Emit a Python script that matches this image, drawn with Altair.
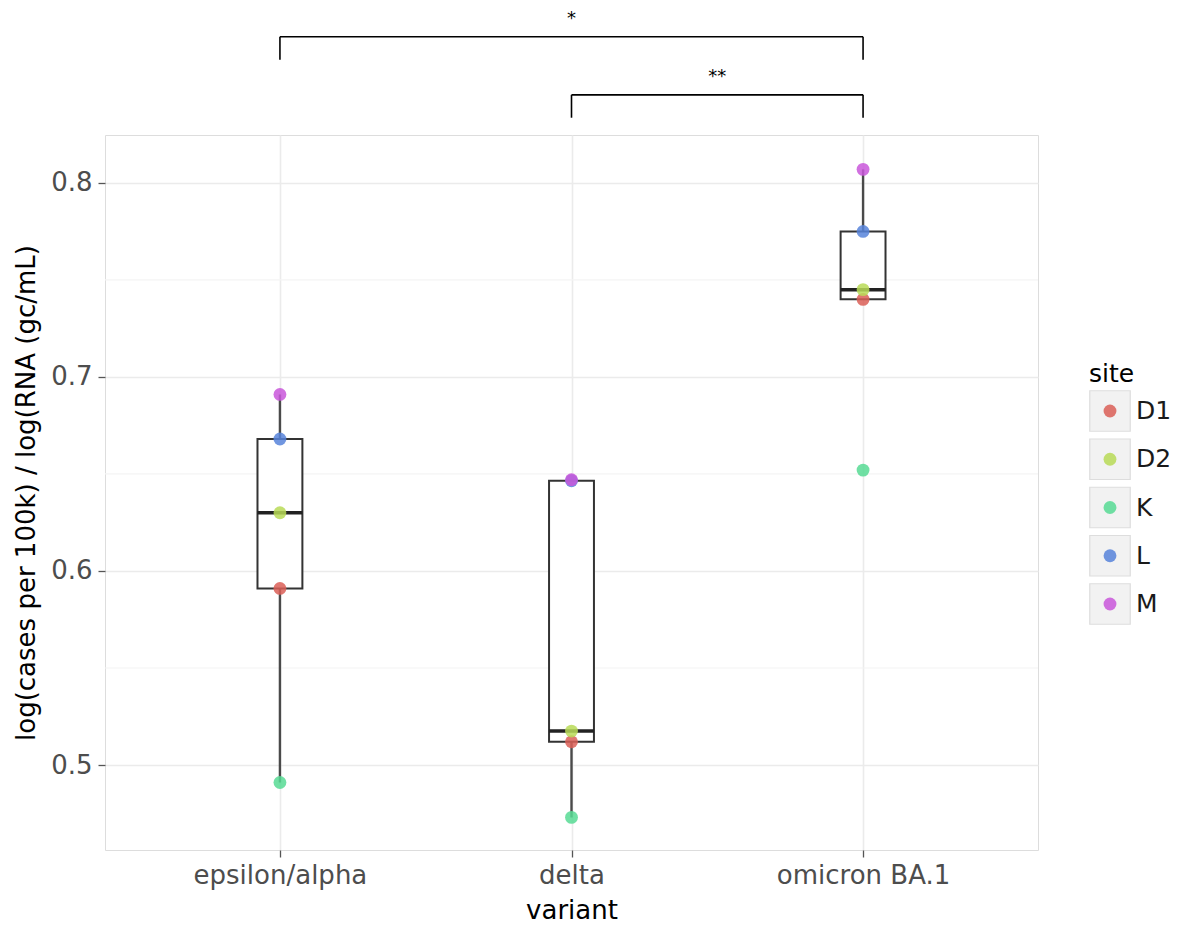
import json
import altair as alt
import numpy as np
import pandas as pd

# ---------------- data ----------------
variants = ["epsilon/alpha", "delta", "omicron BA.1"]
sites = ["D1", "D2", "K", "L", "M"]
site_colors = ["#db5f57", "#b9db57", "#57db94", "#5784db", "#c957db"]

# log(cases per 100k) / log(RNA) per site (D1, D2, K, L, M)
ratio_epsilon_alpha = [0.591, 0.630, 0.491, 0.668, 0.691]
ratio_delta = [0.512, 0.5175, 0.473, 0.6465, 0.647]
ratio_omicron_ba1 = [0.740, 0.745, 0.652, 0.775, 0.807]
series = [ratio_epsilon_alpha, ratio_delta, ratio_omicron_ba1]

y_ticks = [0.5, 0.6, 0.7, 0.8]
y_minor = [0.55, 0.65, 0.75]
y_domain = [0.4562, 0.8247]

# significance brackets
comp_left = ["epsilon/alpha", "delta"]
comp_right = ["omicron BA.1", "omicron BA.1"]
comp_labels = ["*", "**"]
bracket_y = [0.8753, 0.8454]
tip_length = 0.0118
label_gap = 0.0092
box_half = 0.077

# ---------------- tables ----------------
pts = []
boxes = []
for i, vals in enumerate(series):
    arr = np.array(vals)
    q1, med, q3 = np.percentile(arr, [25, 50, 75])
    iqr = q3 - q1
    lo = arr[arr >= q1 - 1.5 * iqr].min()
    hi = arr[arr <= q3 + 1.5 * iqr].max()
    boxes.append({"idx": i, "left": i - box_half, "right": i + box_half,
                  "q1": q1, "med": med, "q3": q3, "lo": lo, "hi": hi})
    for s, v in zip(sites, vals):
        pts.append({"idx": i, "variant": variants[i], "site": s, "ratio": v})
points_df = pd.DataFrame(pts)
box_df = pd.DataFrame(boxes)

br = []
tips = []
for l, r, lab, yb in zip(comp_left, comp_right, comp_labels, bracket_y):
    li, ri = variants.index(l), variants.index(r)
    br.append({"x1": li, "x2": ri, "y": yb, "mid": (li + ri) / 2,
               "ylab": yb + label_gap, "label": lab})
    for xi in (li, ri):
        tips.append({"x": xi, "y": yb, "y2": yb - tip_length})
br_df = pd.DataFrame(br)
tips_df = pd.DataFrame(tips)
minor_df = pd.DataFrame({"y": y_minor})
legend_df = pd.DataFrame({"site": sites})
legend_title_df = pd.DataFrame({"t": ["site"]})

# ---------------- scales / axes ----------------
FS = 26
LFS = 25
x_scale = alt.Scale(domain=[-0.6, 2.6], nice=False, zero=False)
y_scale = alt.Scale(domain=y_domain, nice=False, zero=False)
color_scale = alt.Scale(domain=sites, range=site_colors)

x_axis = alt.Axis(values=[0, 1, 2], labelExpr=f"{json.dumps(variants)}[datum.value]",
                  title="variant", grid=True, gridColor="#ebebeb", gridWidth=1.6,
                  domain=False, tickColor="#555555", tickSize=7, tickWidth=1.3,
                  labelFontSize=FS, labelColor="#4d4d4d", labelPadding=5,
                  titleFontSize=FS, titleFontWeight="normal", titleColor="#000000",
                  titlePadding=9, labelFlush=False, labelOverlap=False)
y_axis = alt.Axis(values=y_ticks, format=".1f",
                  title="log(cases per 100k) / log(RNA (gc/mL)",
                  grid=True, gridColor="#ebebeb", gridWidth=1.6,
                  domain=False, tickColor="#555555", tickSize=7, tickWidth=1.3,
                  labelFontSize=FS, labelColor="#4d4d4d", labelPadding=6,
                  titleFontSize=FS, titleFontWeight="normal", titleColor="#000000",
                  titlePadding=11, labelFlush=False, labelOverlap=False)


def X(f):
    return alt.X(f, type="quantitative", scale=x_scale, axis=x_axis)


def Y(f):
    return alt.Y(f, type="quantitative", scale=y_scale, axis=y_axis)


minor = alt.Chart(minor_df).mark_rule(color="#f4f4f4", strokeWidth=1.2).encode(y=Y("y"))

whisk = alt.Chart(box_df).mark_rule(color="#4a4a4a", strokeWidth=2.4).encode(
    x=X("idx"), y=Y("lo"), y2="hi")
box = alt.Chart(box_df).mark_rect(fill="white", stroke="#333333", strokeWidth=2).encode(
    x=X("left"), x2="right", y=Y("q1"), y2="q3")
median = alt.Chart(box_df).mark_rule(color="#222222", strokeWidth=3.5).encode(
    x=X("left"), x2="right", y=Y("med"))
points = alt.Chart(points_df).mark_circle(size=165, opacity=0.85).encode(
    x=X("idx"), y=Y("ratio"),
    color=alt.Color("site:N", scale=color_scale, legend=None))

br_h = alt.Chart(br_df).mark_rule(color="#000000", strokeWidth=1.6, clip=False).encode(
    x=X("x1"), x2="x2", y=Y("y"))
br_v = alt.Chart(tips_df).mark_rule(color="#000000", strokeWidth=1.6, clip=False).encode(
    x=X("x"), y=Y("y"), y2="y2")
br_t = alt.Chart(br_df).mark_text(fontSize=18, color="#000000", baseline="middle",
                                  align="center", clip=False).encode(
    x=X("mid"), y=Y("ylab"), text="label:N")

main = alt.layer(minor, whisk, box, median, points, br_h, br_v, br_t)

# ---------------- legend ----------------
ly = alt.Y("site:N", scale=alt.Scale(domain=sites, range=[276, 469], padding=0), axis=None)
leg_keys = alt.Chart(legend_df).mark_square(size=1640, fill="#f2f2f2", stroke="#dddddd",
                                            strokeWidth=1.2, opacity=1).encode(
    x=alt.value(1005), y=ly)
leg_pts = alt.Chart(legend_df).mark_circle(size=165, opacity=0.85).encode(
    x=alt.value(1005), y=ly, color=alt.Color("site:N", scale=color_scale, legend=None))
leg_lab = alt.Chart(legend_df).mark_text(fontSize=LFS, align="left", baseline="middle",
                                         color="#1a1a1a").encode(
    x=alt.value(1031), y=ly, text="site:N")
leg_title = alt.Chart(legend_title_df).mark_text(fontSize=LFS, align="left", baseline="middle",
                                                 color="#000000").encode(
    x=alt.value(984), y=alt.value(239), text="t:N")
legend = alt.layer(leg_keys, leg_pts, leg_lab, leg_title)

chart = alt.layer(main, legend).resolve_scale(y="independent").properties(
    width=933, height=715,
    autosize=alt.AutoSizeParams(type="none"),
    padding={"left": 97, "top": 127, "right": 133, "bottom": 80},
).configure_view(stroke="#aaaaaa", strokeWidth=2).configure(font="DejaVu Sans")

chart.save("out.html", embed_options={"renderer": "svg", "actions": False})
